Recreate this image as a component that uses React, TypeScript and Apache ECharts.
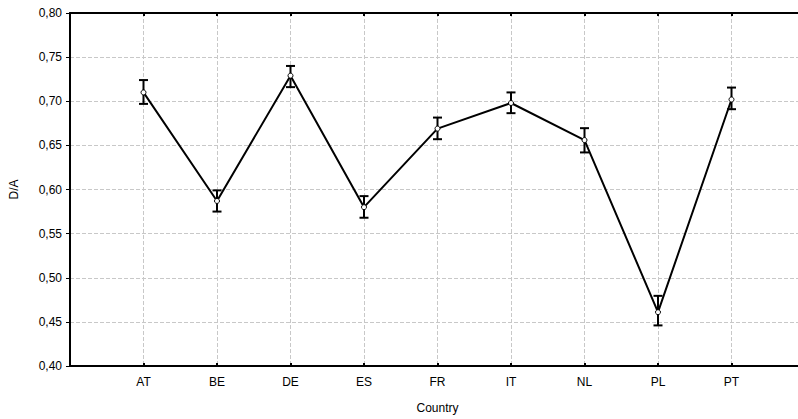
import React, { useEffect, useRef } from "react";
import * as echarts from "echarts";

const categories = ["", "AT", "BE", "DE", "ES", "FR", "IT", "NL", "PL", "PT", ""];
const means = [null, 0.710, 0.587, 0.729, 0.580, 0.669, 0.698, 0.656, 0.461, 0.702, null];
const lows = [null, 0.697, 0.575, 0.716, 0.568, 0.657, 0.6865, 0.642, 0.446, 0.691, null];
const highs = [null, 0.724, 0.599, 0.740, 0.5925, 0.6815, 0.710, 0.6695, 0.4795, 0.7155, null];
const yTicks = { min: 0.4, max: 0.8, interval: 0.05 };

const FONT = "'Liberation Sans', Arial, sans-serif";

export default function App() {
  const ref = useRef<HTMLDivElement>(null);
  useEffect(() => {
    if (!ref.current) return;
    const chart = echarts.init(ref.current, undefined, { renderer: "svg" });
    const errData = categories
      .map((_, i) => (lows[i] == null ? null : [i, lows[i], highs[i]]))
      .filter((d) => d != null);
    chart.setOption({
      animation: false,
      backgroundColor: "#ffffff",
      textStyle: { fontFamily: FONT, color: "#000" },
      grid: { left: 70, top: 13, right: 20, bottom: 53 },
      xAxis: [
        {
          type: "category",
          data: categories,
          boundaryGap: false,
          position: "bottom",
          name: "Country",
          nameLocation: "middle",
          nameGap: 36,
          nameTextStyle: { fontFamily: FONT, fontSize: 12, color: "#000" },
          axisLine: { show: true, lineStyle: { color: "#000", width: 2 } },
          axisTick: { show: true, inside: true, length: 3, lineStyle: { color: "#000", width: 2 } },
          axisLabel: { show: true, fontFamily: FONT, fontSize: 12, color: "#000", margin: 10, interval: 0 },
          splitLine: { show: true, lineStyle: { color: "#c8c8c8", type: [4, 2], width: 1 } },
        },
        {
          type: "category",
          data: categories,
          boundaryGap: false,
          position: "top",
          axisLine: { show: true, lineStyle: { color: "#000", width: 2 } },
          axisTick: { show: true, inside: true, length: 3, lineStyle: { color: "#000", width: 2 } },
          axisLabel: { show: false },
          splitLine: { show: false },
        },
      ],
      yAxis: {
        type: "value",
        min: yTicks.min,
        max: yTicks.max,
        interval: yTicks.interval,
        name: "D/A",
        nameLocation: "middle",
        nameGap: 50,
        nameRotate: 90,
        nameTextStyle: { fontFamily: FONT, fontSize: 12, color: "#000" },
        axisLine: { show: true, lineStyle: { color: "#000", width: 2 } },
        axisTick: { show: true, inside: false, length: 4, lineStyle: { color: "#000", width: 1 } },
        axisLabel: {
          fontFamily: FONT,
          fontSize: 12,
          color: "#000",
          margin: 8,
          formatter: (v: number) => v.toFixed(2).replace(".", ","),
        },
        splitLine: { show: true, lineStyle: { color: "#c8c8c8", type: [4, 2], width: 1 } },
      },
      series: [
        {
          type: "custom",
          xAxisIndex: 0,
          z: 2,
          data: errData,
          renderItem: (params: any, api: any) => {
            const x = api.value(0);
            const lo = api.coord([x, api.value(1)]);
            const hi = api.coord([x, api.value(2)]);
            const hw = 4.5;
            const style = { stroke: "#000", lineWidth: 2, fill: "none" };
            return {
              type: "group",
              children: [
                { type: "line", shape: { x1: lo[0], y1: lo[1], x2: hi[0], y2: hi[1] }, style },
                { type: "line", shape: { x1: lo[0] - hw, y1: lo[1], x2: lo[0] + hw, y2: lo[1] }, style },
                { type: "line", shape: { x1: hi[0] - hw, y1: hi[1], x2: hi[0] + hw, y2: hi[1] }, style },
              ],
            };
          },
        },
        {
          type: "line",
          xAxisIndex: 0,
          z: 3,
          data: means,
          connectNulls: false,
          symbol: "circle",
          symbolSize: 5,
          showSymbol: true,
          lineStyle: { color: "#000", width: 2 },
          itemStyle: { color: "#fff", borderColor: "#000", borderWidth: 1 },
        },
      ],
    });
    return () => chart.dispose();
  }, []);
  return (
    <div style={{ position: "absolute", left: 0, top: 0, width: 798, height: 419, overflow: "hidden" }}>
      <div ref={ref} style={{ width: 825, height: 419 }} />
    </div>
  );
}
